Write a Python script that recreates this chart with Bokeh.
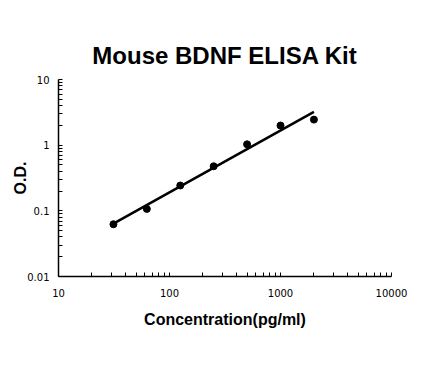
import numpy as np
from bokeh.plotting import figure
from bokeh.models import Range1d, FixedTicker, CustomJSTickFormatter
from bokeh.embed import file_html
from bokeh.resources import INLINE

# Data
title_text = "Mouse BDNF ELISA Kit"
concentration = [31.25, 62.5, 125, 250, 500, 1000, 2000]
od = [0.0625, 0.107, 0.243, 0.477, 1.03, 1.99, 2.45]

x_major = [10, 100, 1000, 10000]
y_major = [0.01, 0.1, 1, 10]

# power-law trendline fit (as in spreadsheet log-log trendline)
b, a = np.polyfit(np.log10(concentration), np.log10(od), 1)
fit_x = np.array([concentration[0], concentration[-1]])
fit_y = 10 ** (a + b * np.log10(fit_x))

p = figure(frame_width=333, frame_height=197, output_backend="svg", toolbar_location=None,
           x_axis_type="log", y_axis_type="log",
           x_range=Range1d(10, 10000), y_range=Range1d(0.01, 10),
           min_border_left=58, min_border_right=45, min_border_top=79, min_border_bottom=96,
           title=title_text)
p.outline_line_color = None
p.grid.visible = False
p.background_fill_color = "white"
p.border_fill_color = "white"

p.title.align = "center"
p.title.text_font = "Liberation Sans"
p.title.text_font_size = "24px"
p.title.text_font_style = "bold"
p.title.text_color = "black"
p.title.standoff = 21
p.title.offset = -3

def minors(majors):
    out = []
    for m in majors[:-1]:
        for k in range(2, 10):
            out.append(m * k)
    return out

p.xaxis.ticker = FixedTicker(ticks=x_major, minor_ticks=minors(x_major))
p.yaxis.ticker = FixedTicker(ticks=y_major, minor_ticks=minors(y_major))
p.xaxis.formatter = CustomJSTickFormatter(code="return String(tick);")
p.yaxis.formatter = CustomJSTickFormatter(code="return String(tick);")

for ax in (p.xaxis, p.yaxis):
    ax.axis_line_color = "black"
    ax.axis_line_width = 1.5
    ax.major_tick_in = 4
    ax.major_tick_out = 0
    ax.minor_tick_in = 4
    ax.minor_tick_out = 0
    ax.major_tick_line_color = "black"
    ax.minor_tick_line_color = "black"
    ax.major_tick_line_width = 1
    ax.minor_tick_line_width = 1
    ax.major_label_text_font = "DejaVu Sans"
    ax.major_label_text_font_size = "10px"
    ax.major_label_text_color = "black"
    ax.axis_label_text_font = "Liberation Sans"
    ax.axis_label_text_font_style = "bold"
    ax.axis_label_text_font_size = "16px"
    ax.axis_label_text_color = "black"

p.xaxis.axis_label = "Concentration(pg/ml)"
p.yaxis.axis_label = "O.D."
p.xaxis.major_label_standoff = 12
p.yaxis.major_label_standoff = 9
p.xaxis.axis_label_standoff = 11
p.yaxis.axis_label_standoff = -5

p.line(fit_x, fit_y, line_color="black", line_width=2.5)
p.scatter(concentration, od, size=7, fill_color="black", line_color="black")

open("out.html", "w").write(file_html(p, INLINE))
